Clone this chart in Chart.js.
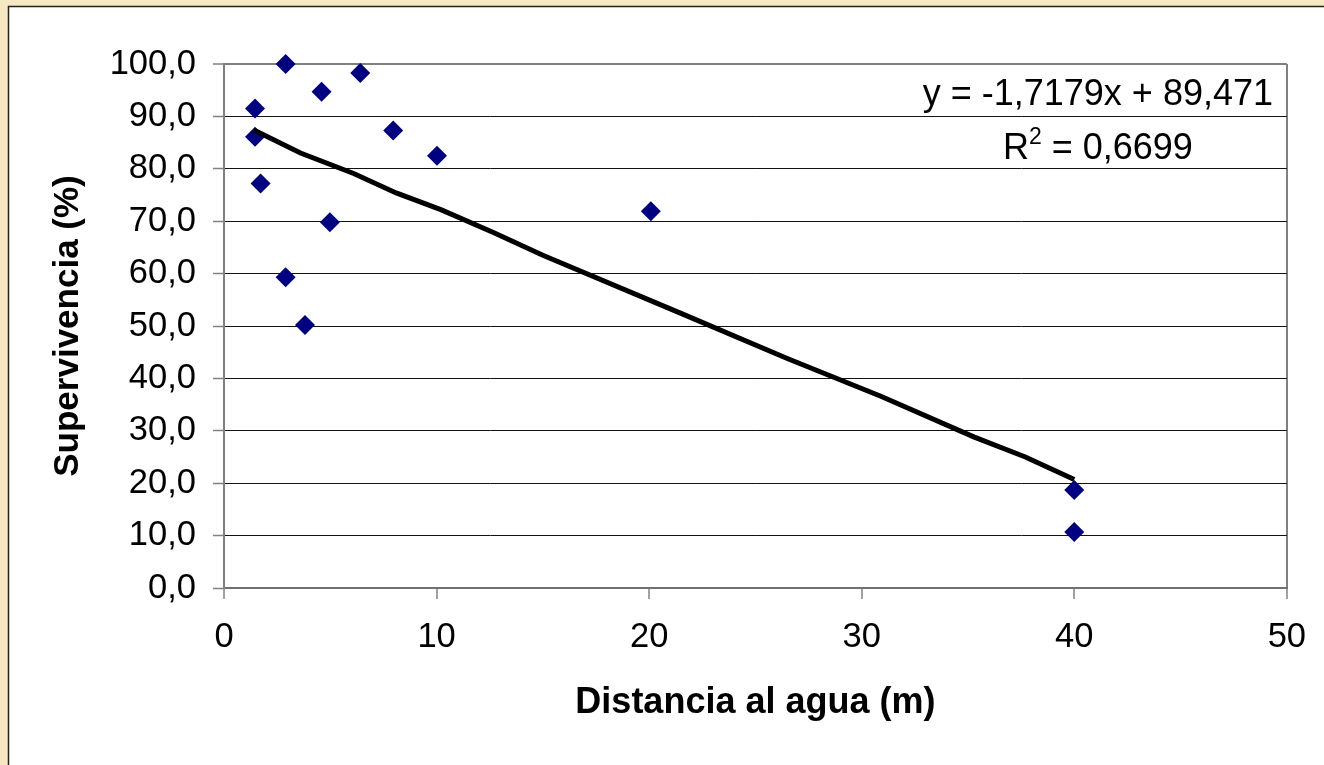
<!DOCTYPE html>
<html>
<head>
<meta charset="utf-8">
<script src="https://cdn.jsdelivr.net/npm/chart.js@4/dist/chart.umd.min.js"></script>
<style>
    html, body { margin: 0; padding: 0; background: #F5E8C3; }
    #wrap { width: 1324px; height: 765px; }
</style>
</head>
<body>
<div id="wrap"><canvas id="survChart"></canvas></div>
<script>
"use strict";

// observed points: distance to water (m) vs survival (%)
const distancia = [1.46, 1.46, 1.72, 2.9, 2.9, 3.81, 4.59, 4.98, 6.41, 7.96, 10.02, 20.08, 40.0, 40.0];
const supervivencia = [91.5, 86.1, 77.2, 100.0, 59.3, 50.2, 94.7, 69.8, 98.3, 87.3, 82.5, 71.9, 18.7, 10.7];

// trend line as drawn in the picture
const trendX = [1.4, 3.6, 6.1, 8.1, 10.2, 12.7, 15.0, 21.5, 26.5, 30.9, 35.3, 37.7, 40.0];
const trendY = [87.4, 83.0, 79.1, 75.4, 72.2, 67.8, 63.5, 52.4, 43.8, 36.6, 28.8, 25.0, 20.7];

const yTicks = [0, 10, 20, 30, 40, 50, 60, 70, 80, 90, 100];
const xTicks = [0, 10, 20, 30, 40, 50];
const equationText = "y = -1,7179x + 89,471";
const r2Text = "0,6699";

const FONT = "'Liberation Sans', Arial, sans-serif";

const panelBg = {
    id: "panelBg",
    beforeDraw(chart) {
        const ctx = chart.ctx;
        ctx.save();
        ctx.fillStyle = "#F5E8C3";
        ctx.fillRect(0, 0, chart.width, chart.height);
        ctx.fillStyle = "#ffffff";
        ctx.fillRect(8, 6, chart.width - 8, chart.height - 6);
        ctx.strokeStyle = "#222";
        ctx.lineWidth = 1.5;
        ctx.beginPath();
        ctx.moveTo(8.5, chart.height);
        ctx.lineTo(8.5, 6.5);
        ctx.lineTo(chart.width, 6.5);
        ctx.stroke();
        ctx.restore();
    }
};

const equationLabel = {
    id: "equationLabel",
    afterDatasetsDraw(chart) {
        const ctx = chart.ctx;
        ctx.save();
        ctx.fillStyle = "#000";
        ctx.textBaseline = "alphabetic";
        ctx.font = "36px " + FONT;
        const w1 = ctx.measureText(equationText).width;
        const right = 1273;
        const cx = right - w1 / 2;
        ctx.textAlign = "left";
        ctx.fillText(equationText, right - w1, 105);

        // second line: R² = 0,6699, centred under the first
        const partR = "R";
        const partRest = " = " + r2Text;
        const wR = ctx.measureText(partR).width;
        const wRest = ctx.measureText(partRest).width;
        ctx.font = "23px " + FONT;
        const wSup = ctx.measureText("2").width;
        const total = wR + wSup + wRest;
        let x = cx - total / 2;
        ctx.font = "36px " + FONT;
        ctx.fillText(partR, x, 159);
        x += wR;
        ctx.font = "23px " + FONT;
        ctx.fillText("2", x, 144);
        x += wSup;
        ctx.font = "36px " + FONT;
        ctx.fillText(partRest, x, 159);
        ctx.restore();
    }
};

const pointData = distancia.map((d, i) => ({ x: d, y: supervivencia[i] }));
const trendData = trendX.map((d, i) => ({ x: d, y: trendY[i] }));

new Chart(document.getElementById("survChart"), {
    type: "scatter",
    data: {
        datasets: [
            {
                label: "Tendencia",
                data: trendData,
                showLine: true,
                borderColor: "#000",
                borderWidth: 5,
                pointRadius: 0,
                fill: false,
                order: 0
            },
            {
                label: "Supervivencia",
                data: pointData,
                pointStyle: "rectRot",
                pointRadius: 10,
                pointBackgroundColor: "#000080",
                pointBorderColor: "#000080",
                pointBorderWidth: 0,
                clip: false,
                order: 1
            }
        ]
    },
    options: {
        responsive: true,
        maintainAspectRatio: false,
        animation: false,
        layout: { padding: { top: 64, right: 36, left: 0, bottom: 0 } },
        plugins: {
            legend: { display: false },
            tooltip: { enabled: false }
        },
        scales: {
            x: {
                type: "linear",
                min: 0,
                max: 50,
                afterBuildTicks: (scale) => { scale.ticks = xTicks.map((v) => ({ value: v })); },
                afterFit: (scale) => { scale.height = 177; },
                ticks: {
                    color: "#000",
                    font: { family: FONT, size: 34.5 },
                    padding: 18,
                    maxRotation: 0
                },
                grid: {
                    color: (c) => (c.tick && c.tick.value === 50 ? "#808080" : "rgba(0,0,0,0)"),
                    lineWidth: 2,
                    tickColor: "#808080",
                    tickWidth: 1.5,
                    tickLength: 11
                },
                border: { color: "#707070", width: 2 },
                title: {
                    display: true,
                    text: "Distancia al agua (m)",
                    color: "#000",
                    font: { family: FONT, size: 36, weight: "bold" },
                    padding: { top: 0, bottom: 40 }
                }
            },
            y: {
                type: "linear",
                min: 0,
                max: 100,
                afterBuildTicks: (scale) => { scale.ticks = yTicks.map((v) => ({ value: v })); },
                afterFit: (scale) => { scale.width = 224; },
                ticks: {
                    color: "#000",
                    font: { family: FONT, size: 34.5 },
                    padding: 17,
                    callback: (v) => Number(v).toFixed(1).replace(".", ",")
                },
                grid: {
                    color: (c) => (c.tick && c.tick.value === 100 ? "#808080" : "#111"),
                    lineWidth: (c) => (c.tick && c.tick.value === 100 ? 2 : 1),
                    tickColor: "#808080",
                    tickWidth: 1.5,
                    tickLength: 11
                },
                border: { color: "#808080", width: 2 },
                title: {
                    display: true,
                    text: "Supervivencia (%)",
                    color: "#000",
                    font: { family: FONT, size: 35, weight: "bold" },
                    padding: { top: 47, bottom: 0 }
                }
            }
        }
    },
    plugins: [panelBg, equationLabel]
});
</script>
</body>
</html>
